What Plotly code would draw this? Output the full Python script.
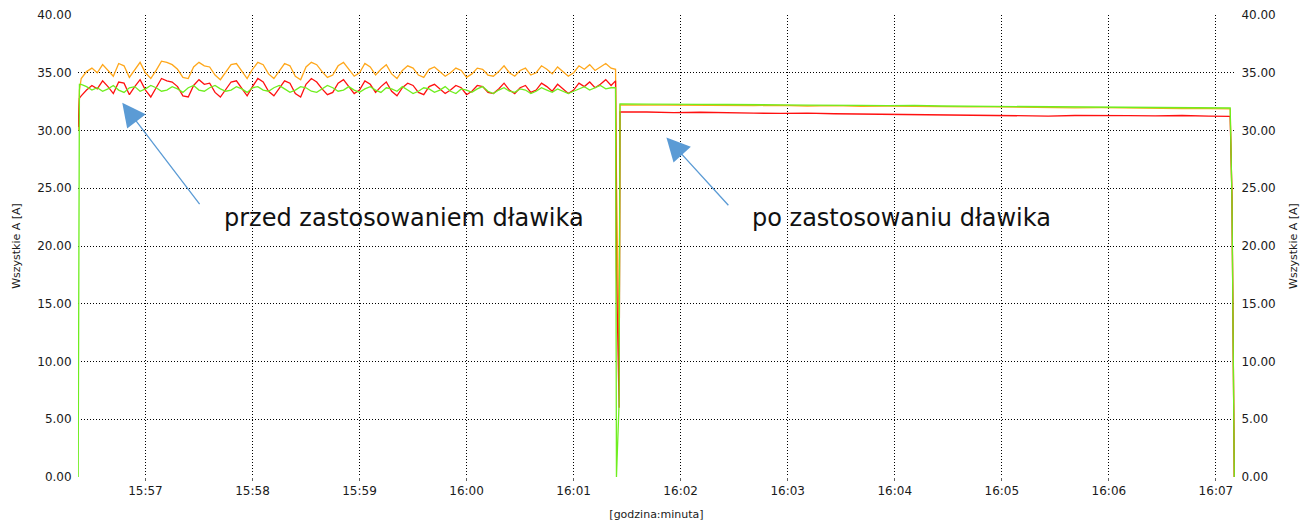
import pandas as pd
import plotly.graph_objects as go

DAY = "2020-01-01 "

# ---- data -------------------------------------------------------------
start_times = ["15:56:22.3", "15:56:23"]
start_orange = [30.0, 33.5]
start_red = [30.3, 32.8]
start_green = [0.0, 34.0]

noisy_start = "15:56:24"
noisy_step_s = 3
noisy_orange = [
    34.5, 35.1, 35.4, 35.0, 35.7, 35.2, 34.7, 35.8, 35.6, 34.6, 35.3, 35.9, 35.0,
    34.5, 35.2, 36.0, 35.9, 35.7, 35.3, 34.6, 34.5, 35.5, 35.9, 35.6, 35.5, 34.8, 34.4, 35.0, 35.7, 35.8, 35.2, 34.5, 35.3,
    35.9, 35.7, 34.9, 34.5, 35.2, 35.8, 35.6, 34.7, 34.4, 35.5, 35.9, 35.7, 35.1, 34.6, 34.8, 35.6, 35.9, 35.3, 34.7, 35.0,
    35.8, 35.5, 34.8, 35.3, 35.7, 34.9, 34.5, 35.2, 35.6, 35.4, 34.8, 34.6, 35.3, 35.5, 35.1, 34.7, 35.0, 35.4, 35.2, 34.6,
    34.9, 35.4, 35.3, 34.8, 34.7, 35.1, 35.6, 35.0, 34.7, 35.2, 35.4, 34.8, 35.0, 35.6, 35.3, 34.9, 35.5, 35.1, 34.7, 35.0,
    35.6, 35.3, 35.7, 35.2, 35.5, 35.8, 35.4,
]
noisy_red = [
    33.0, 33.5, 33.9, 33.6, 34.3, 33.8, 33.2, 34.2, 34.1, 33.1, 33.8, 34.4, 33.5,
    32.9, 33.7, 34.5, 34.3, 34.2, 33.8, 33.0, 32.9, 33.9, 34.4, 34.0, 34.1, 33.3, 32.9, 33.5, 34.2, 34.3, 33.7, 33.0, 33.8,
    34.5, 34.2, 33.4, 33.0, 33.7, 34.3, 34.1, 33.2, 32.9, 34.0, 34.5, 34.2, 33.6, 33.1, 33.3, 34.1, 34.4, 33.8, 33.2, 33.5,
    34.3, 34.0, 33.3, 33.8, 34.2, 33.4, 33.0, 33.7, 34.1, 33.9, 33.3, 33.1, 33.8, 34.0, 33.6, 33.2, 33.5, 33.9, 33.7, 33.1,
    33.4, 33.9, 33.8, 33.3, 33.2, 33.6, 34.1, 33.5, 33.2, 33.7, 33.9, 33.3, 33.5, 34.1, 33.8, 33.4, 34.0, 33.6, 33.2, 33.5,
    34.1, 33.8, 34.2, 33.7, 34.0, 34.4, 33.9,
]
noisy_green = [
    34.0, 33.8, 33.5, 33.7, 33.4, 33.6, 33.9, 33.5, 33.3, 33.7, 33.8, 33.4, 33.6,
    33.9, 33.7, 33.4, 33.5, 33.8, 33.6, 33.3, 33.7, 33.9, 33.5, 33.4, 33.7, 33.9, 33.6, 33.4, 33.5, 33.8, 33.6, 33.3, 33.7,
    33.8, 33.5, 33.4, 33.7, 33.9, 33.6, 33.3, 33.5, 33.8, 33.7, 33.4, 33.3, 33.6, 33.9, 33.7, 33.4, 33.5, 33.8, 33.5, 33.3,
    33.6, 33.8, 33.5, 33.3, 33.7, 33.6, 33.4, 33.8, 33.5, 33.2, 33.4, 33.7, 33.6, 33.3, 33.5, 33.8, 33.4, 33.2, 33.6, 33.5,
    33.3, 33.6, 33.8, 33.4, 33.2, 33.5, 33.7, 33.4, 33.3, 33.6, 33.5, 33.2, 33.4, 33.7, 33.5, 33.3, 33.6, 33.4, 33.2, 33.4,
    33.6, 33.8, 33.5, 33.7, 33.9, 33.6, 33.7,
]

drop_times = ["16:01:23.5", "16:01:24", "16:01:25.5"]
drop_orange = [35.3, 26.0, 9.0]
drop_red = [34.3, 18.0, 6.0]
drop_green = [33.7, 0.0, 6.5]

flat_start = "16:01:26"
flat_step_s = 15
flat_orange = [32.22, 32.20, 32.24, 32.18, 32.20, 32.16, 32.18, 32.12, 32.15, 32.10, 32.12, 32.08,
               32.06, 32.04, 32.05, 32.00, 32.01, 31.96, 31.98, 31.94, 31.92, 31.90, 31.90]
flat_red = [31.62, 31.60, 31.55, 31.58, 31.52, 31.50, 31.48, 31.50, 31.45, 31.42, 31.44, 31.40,
            31.35, 31.30, 31.32, 31.28, 31.25, 31.30, 31.32, 31.28, 31.26, 31.30, 31.25]
flat_green = [32.30, 32.28, 32.30, 32.27, 32.25, 32.26, 32.22, 32.20, 32.21, 32.18, 32.15, 32.17,
              32.12, 32.10, 32.08, 32.10, 32.05, 32.02, 32.03, 32.00, 31.98, 31.97, 31.95]

end_times = ["16:07:08", "16:07:09", "16:07:09.6", "16:07:10", "16:07:10.3"]
end_orange = [31.88, 24.0, 12.5, 4.0, 0.0]
end_red = [31.22, 24.3, 12.6, 4.1, 0.0]
end_green = [31.95, 24.0, 12.5, 4.0, 0.0]

x_range = ["15:56:22.2", "16:07:10.7"]
y_range = [0, 40]
y_ticks = [0, 5, 10, 15, 20, 25, 30, 35, 40]

note_before = "przed zastosowaniem dławika"
note_after = "po zastosowaniu dławika"
y_title = "Wszystkie A [A]"
x_title = "[godzina:minuta]"

# ---- assemble --------------------------------------------------------
def ts(s):
    return pd.Timestamp(DAY + s)

times = [ts(t) for t in start_times]
times += list(pd.date_range(ts(noisy_start), periods=len(noisy_green), freq=f"{noisy_step_s}s"))
times += [ts(t) for t in drop_times]
times += list(pd.date_range(ts(flat_start), periods=len(flat_green), freq=f"{flat_step_s}s"))
times += [ts(t) for t in end_times]

orange = start_orange + noisy_orange + drop_orange + flat_orange + end_orange
red = start_red + noisy_red + drop_red + flat_red + end_red
green = start_green + noisy_green + drop_green + flat_green + end_green

fig = go.Figure()
for vals, col in [(orange, "#FFA71A"), (red, "#FF1010"), (green, "#6FEE1F")]:
    fig.add_trace(go.Scatter(x=times, y=vals, mode="lines",
                             line=dict(color=col, width=1.3), showlegend=False))
fig.add_trace(go.Scatter(x=[times[0]], y=[green[0]], yaxis="y2", mode="markers",
                         marker=dict(opacity=0), showlegend=False, hoverinfo="skip"))

font = "DejaVu Sans, Verdana, sans-serif"
grid = dict(showgrid=True, gridcolor="#000000", griddash="1px,2px", gridwidth=1,
            zeroline=False, showline=False, automargin=False)

fig.update_layout(
    width=1314, height=524,
    margin=dict(l=78, r=79, t=15, b=47),
    paper_bgcolor="white", plot_bgcolor="white",
    font=dict(family=font, size=12, color="#1a1a1a"),
    xaxis=dict(type="date", range=[ts(x_range[0]), ts(x_range[1])],
               dtick=60000, tick0=ts("15:57"), tickformat="%H:%M",
               ticks="outside", ticklen=3, tickcolor="#666",
               title=dict(text=x_title, font=dict(size=11), standoff=12),
               **grid),
    yaxis=dict(range=y_range, tickvals=y_ticks, tickformat=".2f",
               ticks="outside", ticklen=3, tickcolor="#fff",
               title=dict(text=y_title, font=dict(size=11), standoff=14),
               **grid),
    yaxis2=dict(range=y_range, tickvals=y_ticks, tickformat=".2f", overlaying="y",
                side="right", showgrid=False, zeroline=False, showline=False,
                automargin=False,
                ticks="outside", ticklen=3, tickcolor="#fff",
                title=dict(text=y_title, font=dict(size=11), standoff=14)),
)

arrow_color = "#5B9BD5"
for tip_x, tip_y, tail_x, tail_y in [("15:56:47", 32.4, "15:57:31", 23.5),
                                     ("16:01:52", 29.4, "16:02:27.5", 23.4)]:
    fig.add_annotation(x=ts(tip_x), y=tip_y, ax=ts(tail_x), ay=tail_y,
                       xref="x", yref="y", axref="x", ayref="y", text="",
                       showarrow=True, arrowhead=2, arrowsize=3.6, arrowwidth=1.3,
                       arrowcolor=arrow_color)

fig.add_annotation(x=ts("15:57:43"), y=22.4, xref="x", yref="y", text=note_before,
                   showarrow=False, xanchor="left", yanchor="middle",
                   font=dict(size=24, color="#111", family=font))
fig.add_annotation(x=ts("16:02:39"), y=22.4, xref="x", yref="y", text=note_after,
                   showarrow=False, xanchor="left", yanchor="middle",
                   font=dict(size=24, color="#111", family=font))

fig.write_html("out.html", config={"displayModeBar": False},
               post_script="document.body.style.margin='0';")
